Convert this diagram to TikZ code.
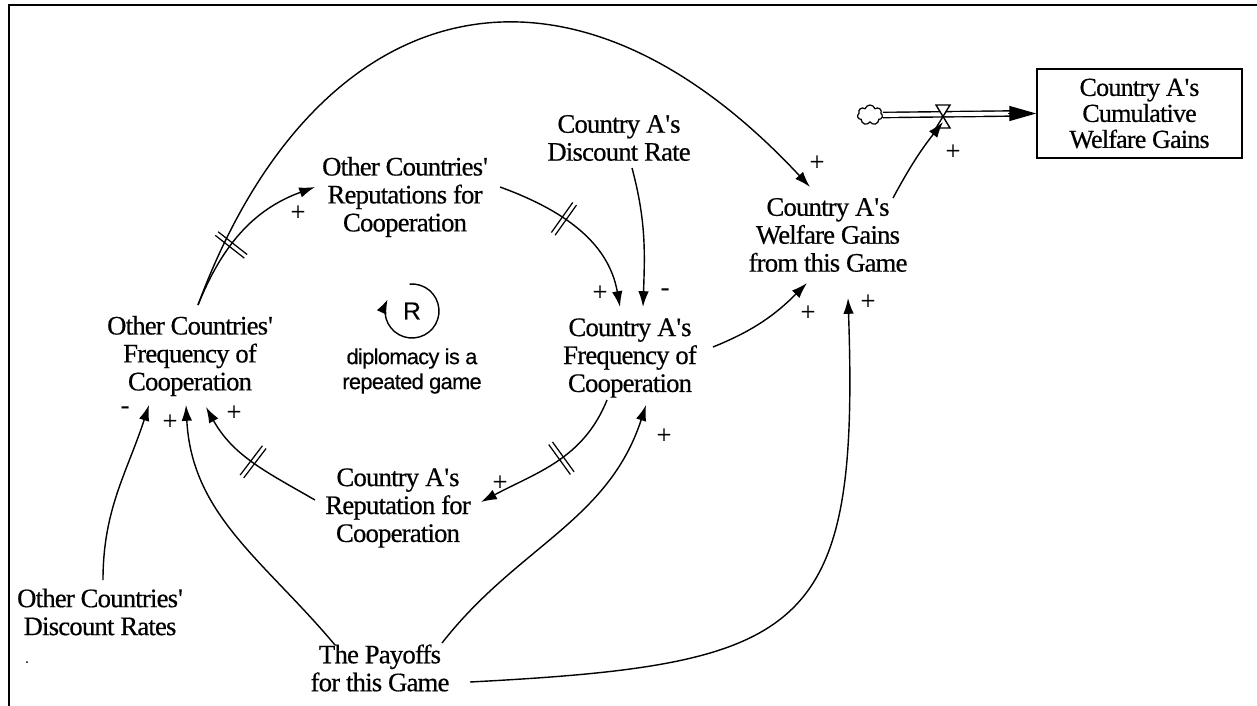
\documentclass[tikz,border=0pt]{standalone}
\usepackage{fontspec}
\setmainfont{Liberation Serif}[FakeBold=0.5, LetterSpace=-3]
\newfontfamily\loopfont{Liberation Sans}[FakeBold=0.4, LetterSpace=-3]
\usetikzlibrary{arrows.meta,decorations.markings,shapes.symbols,calc}
\newcommand{\sq}{\textquotesingle}

\begin{document}
\begin{tikzpicture}[x=0.02cm,y=0.02cm,
  var/.style={align=center, font=\fontsize{15.2}{15.9}\selectfont, inner sep=1pt},
  stock/.style={draw, line width=0.9pt, align=center, inner sep=0pt,
    minimum width=4.1cm, minimum height=1.78cm, font=\fontsize{14.8}{14.8}\selectfont},
  link/.style={line width=0.8pt, -{Latex[length=9pt,width=6pt]}},
  pol/.style={font=\fontsize{15}{15}\selectfont, inner sep=0pt},
  delay/.style={postaction={decorate, decoration={markings, mark=at position #1 with {
      \draw[-, line width=0.7pt] (-1.3pt,-10.5pt) -- (-1.3pt,10.5pt);
      \draw[-, line width=0.7pt] (1.3pt,-10.5pt) -- (1.3pt,10.5pt);}}}},
  pipe/.style={line width=0.8pt, double, double distance=2.2pt},
]
\useasboundingbox (0,0) rectangle (1257,-706);

% frame
\draw[line width=1pt] (9,-706) -- (9,-5) -- (1257,-5);

% variables
\node[var] (OR) at (405,-197) {Other Countries\sq\\Reputations for\\Cooperation};
\node[var] (AD) at (619,-138) {Country A\sq s\\Discount Rate};
\node[var] (AW) at (828,-235) {Country A\sq s\\Welfare Gains\\from this Game};
\node[var] (OF) at (190,-356) {Other Countries\sq\\Frequency of\\Cooperation};
\node[var] (AF) at (630,-358) {Country A\sq s\\Frequency of\\Cooperation};
\node[var] (AR) at (398,-508) {Country A\sq s\\Reputation for\\Cooperation};
\node[var] (OD) at (100,-612) {Other Countries\sq\\Discount Rates};
\node[var] (PG) at (380,-668) {The Payoffs\\for this Game};

% stock and inflow
\node[stock] (ST) at (1139.5,-113.5) {Country A\sq s\\Cumulative\\Welfare Gains};
\node[cloud, draw, line width=0.7pt, cloud puffs=7, minimum width=0.5cm, minimum height=0.4cm, inner sep=0pt] (src) at (870,-115) {};
\coordinate (valve) at (943,-116);
\draw[pipe] (src.east) -- ([shift={(-26,0)}]ST.west);
\draw[line width=0.8pt, -{Triangle[length=0.54cm,width=0.3cm]}] ([shift={(-28,0)}]ST.west) -- (ST.west);
\draw[fill=white, line width=0.8pt] ($(valve)+(-7,11)$) -- ++(14,0) -- ($(valve)+(-7,-12)$) -- ++(14,0) -- cycle;

% loop marker
\node[font=\loopfont\fontsize{14}{14}\selectfont, inner sep=0pt] (R) at (412,-311) {R};
\draw[line width=0.8pt, -{Latex[length=8pt,width=6pt]}] ([shift={(95:27)}]R.center) arc[start angle=95, end angle=-205, radius=27];
\node[align=center, font=\loopfont\fontsize{12.4}{14.2}\selectfont, inner sep=0pt] (Rlab) at (412,-371) {diplomacy is a\\repeated game};

% causal links
\draw[link] ([shift={(8,51)}]OF.center) .. controls (313,5) and (562,79) .. ([shift={(-18,48)}]AW.center);
\draw[link, delay=0.4] ([shift={(8,51)}]OF.center) to[out=68, in=200] ([shift={(-90,10)}]OR.center);
\draw[link, delay=0.4] ([shift={(95,10)}]OR.center) to[out=-20, in=100] ([shift={(-10,51)}]AF.center);
\draw[link] ([shift={(13,-30)}]AD.center) to[out=-75, in=88] ([shift={(13,51)}]AF.center);
\draw[link] ([shift={(83,11)}]AF.center) to[out=22, in=225] ([shift={(-21,-48)}]AW.center);
\draw[link] ([shift={(90,-14)}]PG.center) to[out=3, in=-88, looseness=1.6] ([shift={(20,-63)}]AW.center);
\draw[link] ([shift={(62,25)}]PG.center) to[out=52, in=-108] ([shift={(16,-47)}]AF.center);
\draw[link] ([shift={(-45,23)}]PG.center) to[out=130, in=-87] ([shift={(-4,-49)}]OF.center);
\draw[link] ([shift={(3,32)}]OD.center) to[out=90, in=-108] ([shift={(-41,-49)}]OF.center);
\draw[link, delay=0.5] ([shift={(-83,8)}]AR.center) to[out=150, in=-61] ([shift={(16,-51)}]OF.center);
\draw[link, delay=0.45] ([shift={(-23,-42)}]AF.center) to[out=-112, in=28] ([shift={(83,6)}]AR.center);
\draw[link] ([shift={(65,37)}]AW.center) to[bend left=5] ([shift={(0,-6)}]valve);

% polarities
\node[pol] (p1) at (817,-163) {+};
\node[pol] (p2) at (298,-213) {+};
\node[pol] (p3) at (600,-293) {+};
\node[pol] (p4) at (665,-292) {-};
\node[pol] (p5) at (808,-313) {+};
\node[pol] (p6) at (868,-302) {+};
\node[pol] (p7) at (664,-436) {+};
\node[pol] (p8) at (500,-483) {+};
\node[pol] (p9) at (125,-410) {-};
\node[pol] (p10) at (170,-422) {+};
\node[pol] (p11) at (234,-413) {+};
\node[pol] (p12) at (953,-152) {+};

% speck
\fill (27,-662) circle[radius=1];
\end{tikzpicture}
\end{document}
